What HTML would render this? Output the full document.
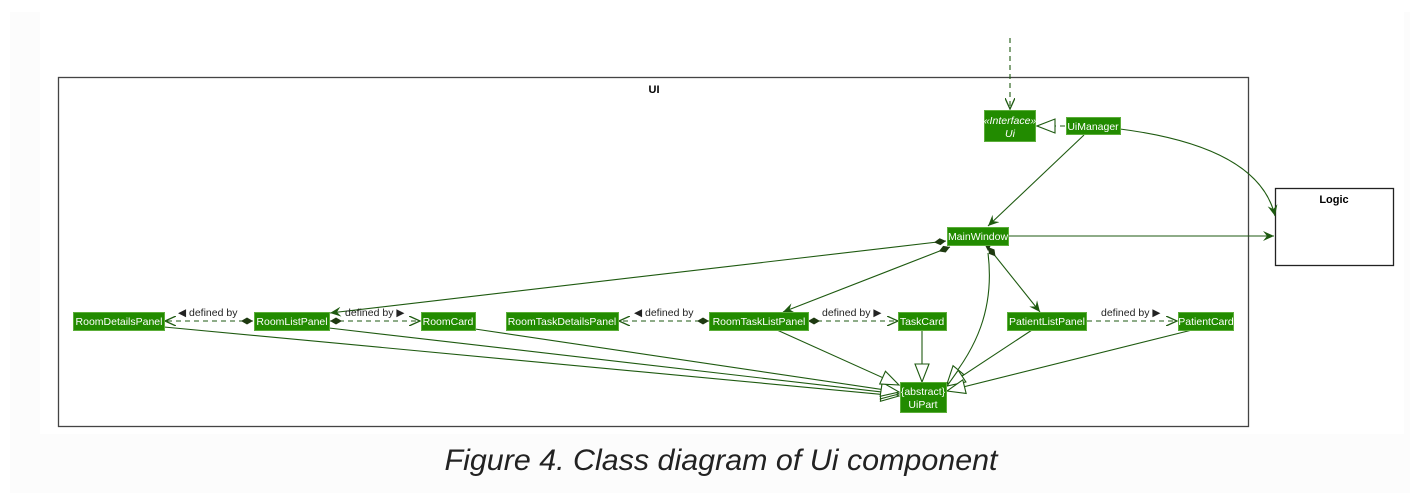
<!DOCTYPE html>
<html><head><meta charset="utf-8"><style>
html,body{margin:0;padding:0;background:#fff;}
svg{display:block;}
.c{fill:#228b00;stroke:#5cae3a;stroke-width:1;}
.t{fill:#fff;font-family:"Liberation Sans",sans-serif;font-size:10.5px;text-anchor:middle;}
.l{stroke:#1e5a10;stroke-width:1.1;fill:none;}
.d{stroke:#1e5a10;stroke-width:1.1;fill:none;stroke-dasharray:5,4;}
.lab{font-family:"Liberation Sans",sans-serif;font-size:10.5px;fill:#222;}
</style></head><body>
<svg width="1417" height="493" viewBox="0 0 1417 493" xmlns="http://www.w3.org/2000/svg">
<defs>
<marker id="ar" viewBox="0 0 12 10" refX="11" refY="5" markerWidth="12" markerHeight="10" markerUnits="userSpaceOnUse" orient="auto"><path d="M0,0 L11,5 L0,10 L4,5 Z" fill="#1e5a10"/></marker>
<marker id="oa" viewBox="0 0 12 10" refX="11" refY="5" markerWidth="12" markerHeight="10" markerUnits="userSpaceOnUse" orient="auto"><path d="M0,0 L11,5 L0,10" fill="none" stroke="#1e5a10" stroke-width="1.3"/></marker>
<marker id="tri" viewBox="0 0 20 16" refX="19" refY="8" markerWidth="20" markerHeight="16" markerUnits="userSpaceOnUse" orient="auto"><path d="M1,1 L19,8 L1,15 Z" fill="#fff" stroke="#1e5a10" stroke-width="1.1"/></marker>
<marker id="dia" viewBox="0 0 14 8" refX="1" refY="4" markerWidth="14" markerHeight="8" markerUnits="userSpaceOnUse" orient="auto"><path d="M1,4 L7,0.5 L13,4 L7,7.5 Z" fill="#1e3a10"/></marker>
</defs>
<rect x="10" y="12" width="1400" height="481" fill="#fcfcfc"/>
<rect x="40" y="12" width="1364" height="422" fill="#fff"/>
<!-- UI package -->
<rect x="58.5" y="77.5" width="1190" height="349" fill="none" stroke="#444" stroke-width="1.3"/>
<text x="654" y="93" font-family="Liberation Sans,sans-serif" font-size="11" font-weight="bold" text-anchor="middle" fill="#000">UI</text>
<!-- Logic -->
<rect x="1275.5" y="188.5" width="118" height="77" fill="#fff" stroke="#222" stroke-width="1.3"/>
<text x="1334" y="203" font-family="Liberation Sans,sans-serif" font-size="11" font-weight="bold" text-anchor="middle" fill="#000">Logic</text>

<!-- connectors -->
<line class="d" x1="1010" y1="38" x2="1010" y2="109" marker-end="url(#oa)"/>
<line class="d" x1="1065" y1="126" x2="1037" y2="126" marker-end="url(#tri)"/>
<line class="l" x1="1084" y1="135" x2="988" y2="226" marker-end="url(#ar)"/>
<path class="l" d="M1120,129 C1190,138 1262,160 1275,216" marker-end="url(#ar)"/>
<line class="l" x1="1008" y1="236" x2="1274" y2="236" marker-end="url(#ar)"/>
<line class="l" x1="946" y1="241" x2="330" y2="313" marker-start="url(#dia)" marker-end="url(#ar)"/>
<line class="l" x1="950" y1="247" x2="783" y2="312" marker-start="url(#dia)" marker-end="url(#ar)"/>
<line class="l" x1="988" y1="247" x2="1040" y2="312" marker-start="url(#dia)" marker-end="url(#ar)"/>
<path class="l" d="M988,253 C995,310 975,350 947,384" marker-end="url(#tri)"/>
<path d="M985,245 L988,251 L991,245 Z" fill="#1e3a10"/>

<!-- defined by -->
<line class="d" x1="253" y1="321" x2="165" y2="321" marker-start="url(#dia)" marker-end="url(#oa)"/>
<text class="lab" x="178" y="316">◀ defined by</text>
<line class="d" x1="330" y1="321" x2="420" y2="321" marker-start="url(#dia)" marker-end="url(#oa)"/>
<text class="lab" x="345" y="316">defined by ▶</text>
<line class="d" x1="709" y1="321" x2="619" y2="321" marker-start="url(#dia)" marker-end="url(#oa)"/>
<text class="lab" x="634" y="316">◀ defined by</text>
<line class="d" x1="808" y1="321" x2="898" y2="321" marker-start="url(#dia)" marker-end="url(#oa)"/>
<text class="lab" x="822" y="316">defined by ▶</text>
<line class="d" x1="1087" y1="321" x2="1177" y2="321" marker-end="url(#oa)"/>
<text class="lab" x="1101" y="316">defined by ▶</text>

<!-- generalization -->
<line class="l" x1="164" y1="327" x2="899" y2="396" marker-end="url(#tri)"/>
<line class="l" x1="329" y1="328" x2="899" y2="394" marker-end="url(#tri)"/>
<line class="l" x1="475" y1="329" x2="899" y2="392" marker-end="url(#tri)"/>
<line class="l" x1="777" y1="330" x2="899" y2="385" marker-end="url(#tri)"/>
<line class="l" x1="922" y1="330" x2="922" y2="382" marker-end="url(#tri)"/>
<line class="l" x1="1032" y1="330" x2="947" y2="386" marker-end="url(#tri)"/>
<line class="l" x1="1192" y1="330" x2="947" y2="391" marker-end="url(#tri)"/>

<!-- classes -->
<rect class="c" x="984.5" y="110.5" width="51" height="31"/>
<text class="t" x="1010" y="124" font-style="italic" font-size="9.5">«Interface»</text>
<text class="t" x="1010" y="137" font-style="italic">Ui</text>
<rect class="c" x="1066.5" y="117.5" width="54" height="17"/><text class="t" x="1093" y="130">UiManager</text>
<rect class="c" x="947.5" y="227.5" width="61" height="18"/><text class="t" x="978" y="240">MainWindow</text>
<rect class="c" x="73.5" y="312.5" width="91" height="18"/><text class="t" x="119" y="325">RoomDetailsPanel</text>
<rect class="c" x="254.5" y="312.5" width="75" height="18"/><text class="t" x="292" y="325">RoomListPanel</text>
<rect class="c" x="421.5" y="312.5" width="54" height="18"/><text class="t" x="448" y="325">RoomCard</text>
<rect class="c" x="506.5" y="312.5" width="112" height="18"/><text class="t" x="562" y="325">RoomTaskDetailsPanel</text>
<rect class="c" x="709.5" y="312.5" width="99" height="18"/><text class="t" x="759" y="325">RoomTaskListPanel</text>
<rect class="c" x="898.5" y="312.5" width="48" height="18"/><text class="t" x="922" y="325">TaskCard</text>
<rect class="c" x="1007.5" y="312.5" width="79" height="18"/><text class="t" x="1047" y="325">PatientListPanel</text>
<rect class="c" x="1178.5" y="312.5" width="55" height="18"/><text class="t" x="1206" y="325">PatientCard</text>
<rect class="c" x="900.5" y="382.5" width="46" height="30"/>
<text class="t" x="923" y="395">{abstract}</text><text class="t" x="923" y="408">UiPart</text>

<text x="721" y="470" font-family="Liberation Sans,sans-serif" font-size="30" font-style="italic" fill="#222" text-anchor="middle" textLength="553" lengthAdjust="spacingAndGlyphs">Figure 4. Class diagram of Ui component</text>
</svg>
</body></html>
